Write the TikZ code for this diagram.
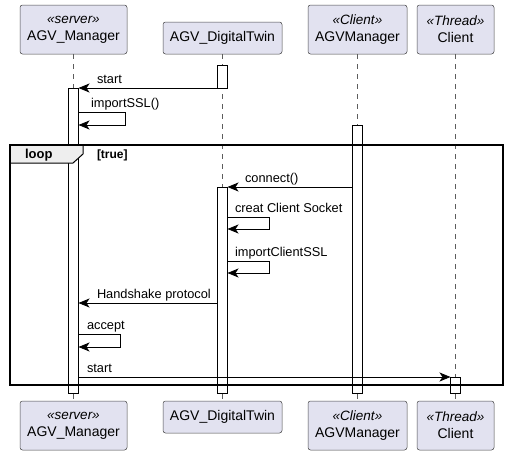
\documentclass[tikz,border=0pt]{standalone}
\usepackage{fontspec}
\setmainfont{Liberation Sans}
\usetikzlibrary{arrows.meta}
\definecolor{partfill}{HTML}{E2E2F0}
\definecolor{partline}{HTML}{181818}
\definecolor{tabfill}{HTML}{EEEEEE}
\newcommand{\stereo}[1]{{\itshape\fontsize{13.5}{17}\selectfont «#1»}}

\begin{document}
\begin{tikzpicture}[
		x=1pt, y=-1pt,
		every node/.style={inner sep=0pt, outer sep=0pt},
		part/.style={rectangle, rounded corners=2.5pt, draw=partline!80, line width=0.5pt, fill=partfill, align=center, font=\fontsize{14}{17}\selectfont},
		lifeline/.style={draw=partline!70, line width=0.5pt, dash pattern=on 5pt off 5pt},
		actbar/.style={rectangle, draw=black, fill=white, line width=0.8pt, minimum width=10pt},
		msg/.style={draw=black, line width=0.8pt, -{Stealth[length=11pt, width=9pt, inset=3pt]}},
		msglabel/.style={anchor=base west, font=\fontsize{12.8}{15}\selectfont}
	]
  \useasboundingbox (0,0) rectangle (508,455);
  \node (mgr_top) [part, minimum width=107pt, minimum height=49pt] at (73.5,29.5) {\stereo{server}\\AGV\_Manager};
  \node (dt_top) [part, minimum width=119pt, minimum height=32pt] at (222.5,38) {AGV\_DigitalTwin};
  \node (agv_top) [part, minimum width=99pt, minimum height=49pt] at (357.5,29.5) {\stereo{Client}\\AGVManager};
  \node (cl_top) [part, minimum width=77pt, minimum height=49pt] at (455.5,29.5) {\stereo{Thread}\\Client};
  \node (mgr_bot) [part, minimum width=107pt, minimum height=49pt] at (73.5,425.5) {\stereo{server}\\AGV\_Manager};
  \node (dt_bot) [part, minimum width=119pt, minimum height=32pt] at (222.5,417) {AGV\_DigitalTwin};
  \node (agv_bot) [part, minimum width=99pt, minimum height=49pt] at (357.5,425.5) {\stereo{Client}\\AGVManager};
  \node (cl_bot) [part, minimum width=77pt, minimum height=49pt] at (455.5,425.5) {\stereo{Thread}\\Client};
  \draw [lifeline] (mgr_top.south) -- (mgr_bot.north);
  \draw [lifeline] (dt_top.south) -- (dt_bot.north);
  \draw [lifeline] (agv_top.south) -- (agv_bot.north);
  \draw [lifeline] (cl_top.south) -- (cl_bot.north);
  \node (mgr_act) [actbar, minimum height=305pt] at (73.5,240.5) {};
  \node (dt_act1) [actbar, minimum height=23pt] at (222.5,76.5) {};
  \node (dt_act2) [actbar, minimum height=206pt] at (222.5,290) {};
  \node (agv_act) [actbar, minimum height=268pt] at (357.5,259) {};
  \node (cl_act) [actbar, minimum height=16pt] at (455.5,385) {};
  \draw [fill=tabfill, line width=1pt] (10,145) -- (83,145) -- (83,154) -- (73,163) -- (10,163) -- cycle;
  \draw [line width=1.5pt] (10,145) rectangle (503,385);
  \node (loop_lbl) [anchor=base west, font=\bfseries\fontsize{13}{15}\selectfont] at (25,158) {loop};
  \node (guard_lbl) [anchor=base west, font=\bfseries\fontsize{12}{14}\selectfont] at (97,158) {[true]};
  \draw [msg] (dt_act1.south west) -- (dt_act1.south west -| mgr_act.east);
  \node (start_lbl) [msglabel] at (97,83) {start};
  \draw [msg] (mgr_act.east |- 0,112) -- ++(47,0) -- ++(0,13) -- ++(-47,0);
  \node (ssl_lbl) [msglabel] at (91,107) {importSSL()};
  \draw [msg] (agv_act.west |- dt_act2.north) -- (dt_act2.north east);
  \node (connect_lbl) [msglabel] at (245,182) {connect()};
  \draw [msg] (dt_act2.east |- 0,217) -- ++(42,0) -- ++(0,12) -- ++(-42,0);
  \node (socket_lbl) [msglabel] at (235,212) {creat Client Socket};
  \draw [msg] (dt_act2.east |- 0,261) -- ++(42,0) -- ++(0,12) -- ++(-42,0);
  \node (clientssl_lbl) [msglabel] at (235,256) {importClientSSL};
  \draw [msg] (dt_act2.west |- 0,303) -- (mgr_act.east |- 0,303);
  \node (shake_lbl) [msglabel] at (97,298) {Handshake protocol};
  \draw [msg] (mgr_act.east |- 0,334) -- ++(42,0) -- ++(0,13) -- ++(-42,0);
  \node (accept_lbl) [msglabel] at (87,329) {accept};
  \draw [msg] (mgr_act.east |- cl_act.north) -- (cl_act.north west);
  \node (thread_lbl) [msglabel] at (87,372) {start};
\end{tikzpicture}
\end{document}
